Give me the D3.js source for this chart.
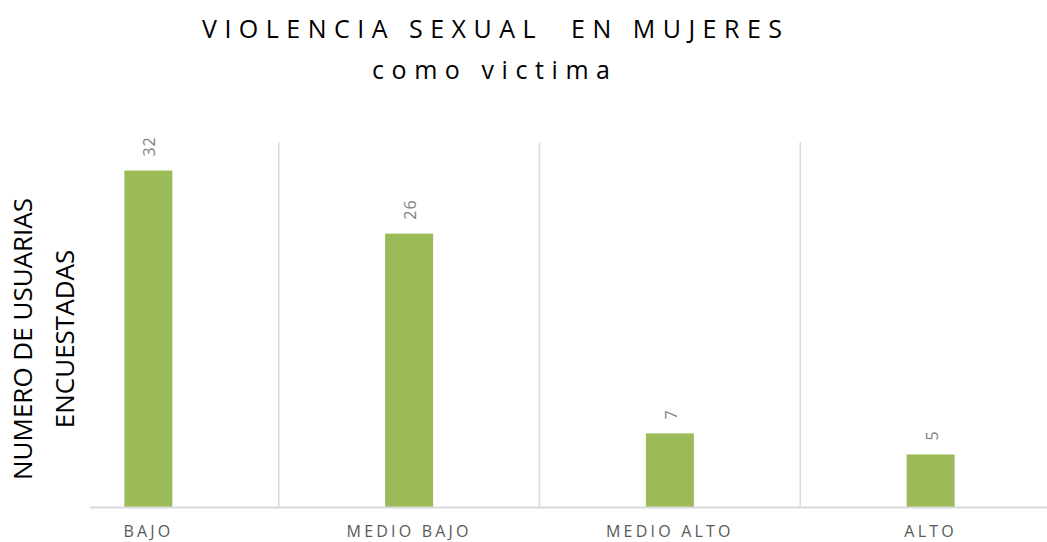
<!DOCTYPE html>
<html>
<head>
<meta charset="utf-8">
<script src="https://cdn.jsdelivr.net/npm/d3@7"></script>
<style>
  body { margin: 0; background: #fff; }
  svg { display: block; font-family: "Open Sans", "Liberation Sans", sans-serif; }
</style>
</head>
<body>
<div id="container"></div>
<script>
// data
const categories = ['BAJO', 'MEDIO BAJO', 'MEDIO ALTO', 'ALTO'];
const values = [32, 26, 7, 5];
const titleLines = ['VIOLENCIA SEXUAL  EN MUJERES', 'como victima'];
const yTitleLines = ['NUMERO DE USUARIAS', 'ENCUESTADAS'];

const W = 1047, H = 542;

const svg = d3.select('#container')
  .append('svg')
  .attr('width', W)
  .attr('height', H);

// scales
const x = d3.scaleBand()
  .domain(categories)
  .range([18, 1061]);

const y = d3.scaleLinear()
  .domain([0, 35])
  .range([507, 139]);

const barW = 48;

// vertical gridlines between categories
svg.append('g')
  .selectAll('line')
  .data(categories.slice(1))
  .join('line')
  .attr('x1', d => x(d))
  .attr('x2', d => x(d))
  .attr('y1', y(34.7))
  .attr('y2', y(0))
  .attr('stroke', '#d9d9d9')
  .attr('stroke-width', 1.5);

// bars
svg.append('g')
  .selectAll('rect')
  .data(values)
  .join('rect')
  .attr('x', (d, i) => x(categories[i]) + x.bandwidth() / 2 - barW / 2)
  .attr('y', d => y(d))
  .attr('width', barW)
  .attr('height', d => y(0) - y(d))
  .attr('fill', '#9bbb59');

// baseline
svg.append('line')
  .attr('x1', 90)
  .attr('x2', W)
  .attr('y1', y(0) + 0.5)
  .attr('y2', y(0) + 0.5)
  .attr('stroke', '#d9d9d9')
  .attr('stroke-width', 2);

// data labels (rotated)
svg.append('g')
  .selectAll('text')
  .data(values)
  .join('text')
  .attr('transform', (d, i) => `translate(${x(categories[i]) + x.bandwidth() / 2 + 7},${y(d) - 14}) rotate(-90)`)
  .attr('text-anchor', 'start')
  .attr('font-size', 16)
  .attr('letter-spacing', 1)
  .attr('fill', '#808080')
  .text(d => d);

// category labels
svg.append('g')
  .selectAll('text')
  .data(categories)
  .join('text')
  .attr('x', d => x(d) + x.bandwidth() / 2)
  .attr('y', 537)
  .attr('text-anchor', 'middle')
  .attr('font-size', 16)
  .attr('letter-spacing', 3.2)
  .attr('fill', '#595959')
  .text(d => d);

// title
svg.append('text')
  .attr('x', 202)
  .attr('y', 38)
  .attr('font-size', 25)
  .attr('textLength', 580)
  .attr('lengthAdjust', 'spacing')
  .attr('fill', '#000')
  .style('white-space', 'pre')
  .text(titleLines[0]);

svg.append('text')
  .attr('x', 372)
  .attr('y', 79)
  .attr('font-size', 25)
  .attr('textLength', 238)
  .attr('lengthAdjust', 'spacing')
  .attr('fill', '#000')
  .text(titleLines[1]);

// y axis title
const yt = svg.append('text')
  .attr('transform', 'translate(0,339) rotate(-90)')
  .attr('text-anchor', 'middle')
  .attr('font-size', 26)
  .attr('fill', '#000');
yt.append('tspan').attr('x', 0).attr('y', 32).text(yTitleLines[0]);
yt.append('tspan').attr('x', 0).attr('y', 74).text(yTitleLines[1]);
</script>
</body>
</html>
